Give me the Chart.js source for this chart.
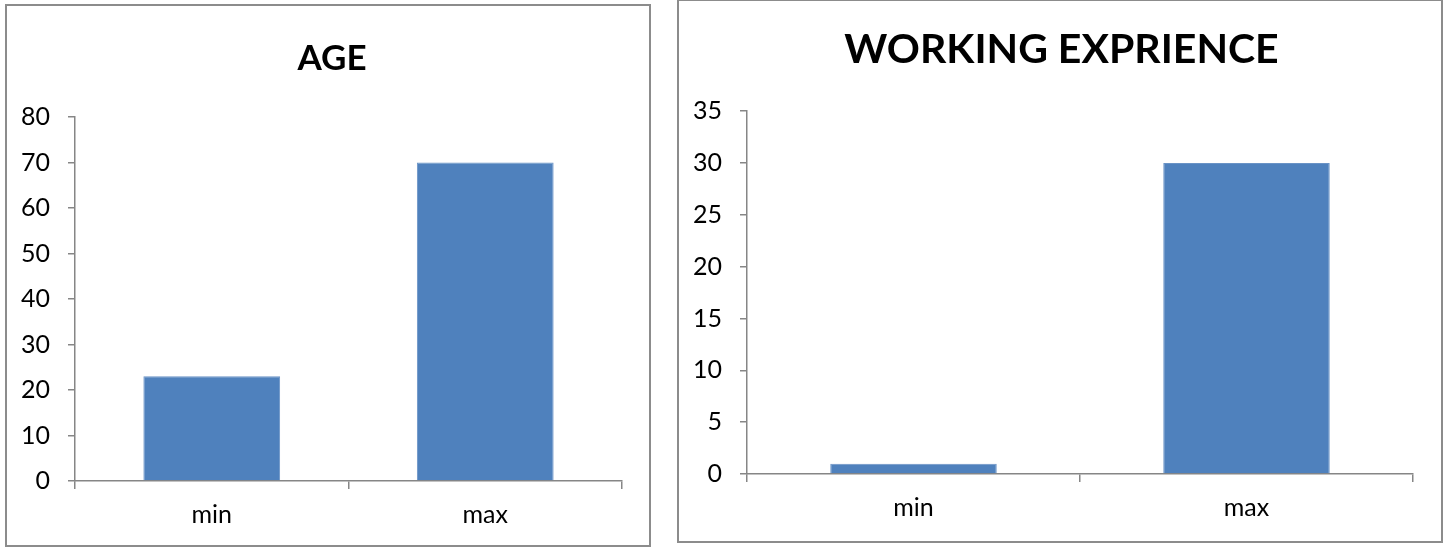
<!DOCTYPE html>
<html>
<head>
<meta charset="utf-8">
<script src="https://cdn.jsdelivr.net/npm/chart.js@4.4.1/dist/chart.umd.min.js"></script>
<style>
  html, body { margin: 0; padding: 0; background: #ffffff; }
  body { width: 1447px; height: 548px; position: relative; overflow: hidden; }
  .box { position: absolute; box-sizing: border-box; border: 2px solid #8c8c8c; background: #fff; }
  #boxAge { left: 5px; top: 4px; width: 646px; height: 543px; }
  #boxWork { left: 677px; top: -1px; width: 766px; height: 544px; }
  canvas { display: block; }
</style>
</head>
<body>
<div class="box" id="boxAge"><canvas id="chartAge"></canvas></div>
<div class="box" id="boxWork"><canvas id="chartWork"></canvas></div>
<script>
// data
const categories = ['min', 'max'];
const ageValues = [23, 70];
const ageTicks = [0, 10, 20, 30, 40, 50, 60, 70, 80];
const workValues = [1, 30];
const workTicks = [0, 5, 10, 15, 20, 25, 30, 35];

const FONT = 'Lato, "Open Sans", sans-serif';
const AXIS_GREY = '#868686';
const BAR_BLUE = '#4f81bd';

function barChart(id, title, values, ticks, opts) {
  const canvas = document.getElementById(id);
  const box = canvas.parentElement;
  canvas.width = box.clientWidth;
  canvas.height = box.clientHeight;
  canvas.style.width = box.clientWidth + 'px';
  canvas.style.height = box.clientHeight + 'px';

  return new Chart(canvas, {
    type: 'bar',
    data: {
      labels: categories,
      datasets: [{
        data: values,
        backgroundColor: BAR_BLUE,
        borderColor: '#6a93c6',
        borderWidth: 1,
        barPercentage: 0.5,
        categoryPercentage: 1,
      }],
    },
    options: {
      responsive: false,
      animation: false,
      layout: { padding: { left: opts.padLeft, right: 0, top: 0, bottom: 0 } },
      plugins: {
        legend: { display: false },
        tooltip: { enabled: false },
        title: {
          display: true,
          text: title,
          color: '#000',
          font: { family: FONT, size: opts.titleSize, weight: 'bold', lineHeight: 1.2 },
          padding: { top: opts.titleTop, bottom: opts.titleBottom },
        },
      },
      scales: {
        x: {
          grid: { display: true, offset: true, drawOnChartArea: false, color: AXIS_GREY, tickLength: 8, lineWidth: 1.5 },
          border: { display: true, color: AXIS_GREY, width: 1.5 },
          ticks: { color: '#000', padding: 11, font: { family: FONT, size: 25 } },
          afterFit: (scale) => { scale.height = opts.xHeight; },
        },
        y: {
          min: ticks[0],
          max: ticks[ticks.length - 1],
          afterBuildTicks: (scale) => { scale.ticks = ticks.map((v) => ({ value: v })); },
          grid: { display: true, drawOnChartArea: false, color: AXIS_GREY, tickLength: 7, lineWidth: 1.5 },
          border: { display: true, color: AXIS_GREY, width: 1.5 },
          ticks: { color: '#000', padding: 18, font: { family: FONT, size: 25 } },
          afterFit: (scale) => { scale.width = opts.yWidth; },
        },
        // empty right-hand strip so the title stays centred on the whole box
        pad: {
          position: 'right',
          display: true,
          grid: { display: false },
          border: { display: false },
          ticks: { display: false },
          afterFit: (scale) => { scale.width = opts.padRight; },
        },
      },
    },
  });
}

barChart('chartAge', 'AGE', ageValues, ageTicks, {
  padLeft: 8, padRight: 27, titleSize: 35, titleTop: 32, titleBottom: 37, xHeight: 64, yWidth: 60,
});
barChart('chartWork', 'WORKING EXPRIENCE', workValues, workTicks, {
  padLeft: 3, padRight: 28, titleSize: 41, titleTop: 24, titleBottom: 37, xHeight: 67, yWidth: 65,
});
</script>
</body>
</html>
